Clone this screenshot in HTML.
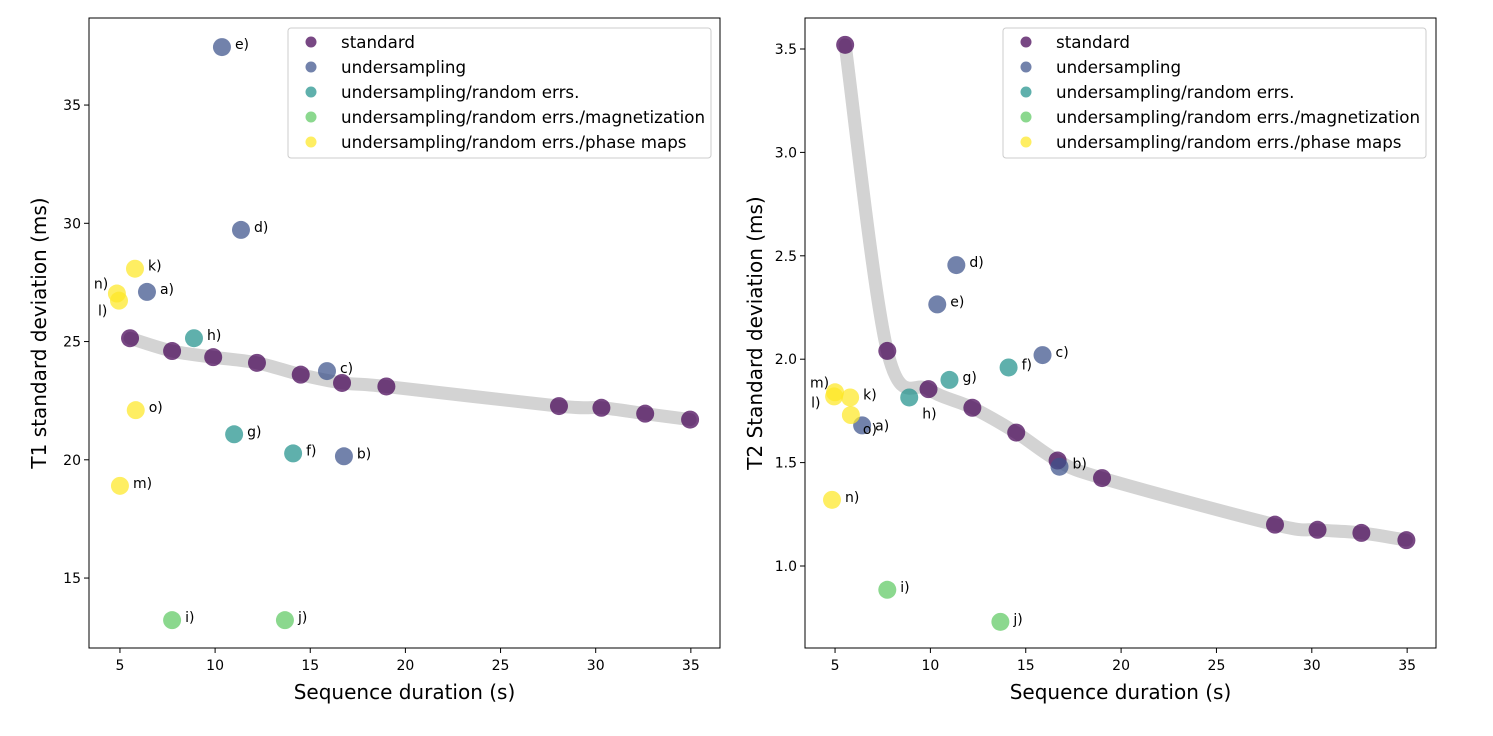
<!DOCTYPE html>
<html><head><meta charset="utf-8"><style>
body{margin:0;background:#fff;font-family:"Liberation Sans","DejaVu Sans",sans-serif}
svg text{font-family:"DejaVu Sans","Liberation Sans",sans-serif}
</style></head><body>
<svg id="c" width="1493" height="731"></svg>
<script>
const categories=["standard","undersampling","undersampling/random errs.","undersampling/random errs./magnetization","undersampling/random errs./phase maps"];
const colors=["#440154","#3b528b","#21918c","#5ec962","#fde725"];
const stdX=[5.53,7.74,9.9,12.2,14.5,16.67,19.0,28.07,30.3,32.6,34.96];
const stdT1=[25.14,24.6,24.34,24.1,23.6,23.25,23.1,22.27,22.2,21.95,21.7];
const stdT2=[3.52,2.04,1.855,1.765,1.645,1.51,1.425,1.2,1.175,1.16,1.125];
const lblNames=["a)","b)","c)","d)","e)","f)","g)","h)","i)","j)","k)","l)","m)","n)","o)"];
const lblCat=[1,1,1,1,1,2,2,2,3,3,4,4,4,4,4];
const lblX=[6.42,16.77,15.88,11.36,10.36,14.1,11.0,8.89,7.74,13.67,5.79,4.95,5.0,4.84,5.83];
const lblT1=[27.1,20.15,23.75,29.72,37.45,20.27,21.08,25.14,13.22,13.22,28.08,26.73,18.9,27.03,22.1];
const lblT2=[1.68,1.48,2.02,2.455,2.265,1.96,1.9,1.815,0.885,0.73,1.815,1.82,1.84,1.32,1.73];
const xTicks=[5,10,15,20,25,30,35];
const t1Ticks=[15,20,25,30,35];
const t2Ticks=[1.0,1.5,2.0,2.5,3.0,3.5];
const offL={"n)":[-23,-10],"l)":[-21,10]};
const offR={"m)":[-25,-10],"l)":[-23,6],"k)":[13,-3],"o)":[12,14],"h)":[13,16],"a)":[13,0]};
const NS="http://www.w3.org/2000/svg";
const svg=document.getElementById('c');
function mk(t,a,p){const e=document.createElementNS(NS,t);for(const k in a)e.setAttribute(k,a[k]);(p||svg).appendChild(e);return e;}
function smooth(pts){let d="M"+pts[0][0]+","+pts[0][1];for(let i=0;i<pts.length-1;i++){const p0=pts[i-1]||pts[i],p1=pts[i],p2=pts[i+1],p3=pts[i+2]||p2;d+=` C${p1[0]+(p2[0]-p0[0])/6},${p1[1]+(p2[1]-p0[1])/6} ${p2[0]-(p3[0]-p1[0])/6},${p2[1]-(p3[1]-p1[1])/6} ${p2[0]},${p2[1]}`;}return d;}
function panel(o){
 const g=mk('g',{});
 const X=v=>o.x0+v*o.xs, Y=v=>o.y0-v*o.ys;
 const line=mk('path',{d:smooth(stdX.map((x,i)=>[X(x),Y(o.std[i])])),fill:"none",stroke:"#d3d3d3",'stroke-width':13,'stroke-linecap':'round'},g);
 
 stdX.forEach((x,i)=>{const c=mk('circle',{cx:X(x),cy:Y(o.std[i]),r:9,fill:colors[0],'fill-opacity':0.72},g);
  });
 lblX.forEach((x,i)=>{const px=X(x),py=Y(o.ly[i]);
  const c=mk('circle',{cx:px,cy:py,r:9,fill:colors[lblCat[i]],'fill-opacity':0.72},g);
  
  const off=o.off[lblNames[i]]||[13,-3];
  const t=mk('text',{x:px+off[0],y:py+off[1]+5,'font-size':14},g);t.textContent=lblNames[i];
  });
 const fr=mk('rect',{x:o.L,y:18,width:o.R-o.L,height:630,fill:"none",stroke:"#000",'stroke-width':1},g);
 
 xTicks.forEach(v=>{mk('line',{x1:X(v),x2:X(v),y1:648,y2:653,stroke:"#000"},g);
  const t=mk('text',{x:X(v),y:670,'font-size':14,'text-anchor':'middle'},g);t.textContent=v;
  });
 o.ticks.forEach(v=>{mk('line',{x1:o.L-5,x2:o.L,y1:Y(v),y2:Y(v),stroke:"#000"},g);
  const t=mk('text',{x:o.L-8,y:Y(v)+5,'font-size':14,'text-anchor':'end'},g);t.textContent=o.fmt(v);
  });
 const xt=mk('text',{x:(o.L+o.R)/2,y:699,'font-size':20,'text-anchor':'middle'},g);xt.textContent="Sequence duration (s)";
 
 const yt=mk('text',{x:0,y:0,'font-size':20,'text-anchor':'middle',transform:`translate(${o.L-43},333) rotate(-90)`},g);yt.textContent=o.ylab;
 
 const lg=mk('g',{},g);
 mk('rect',{x:o.lx,y:28,width:423,height:130,rx:3,fill:"#fff",'fill-opacity':0.8,stroke:"#ccc"},lg);
 categories.forEach((c,i)=>{const yy=42+i*25;
  mk('circle',{cx:o.lx+23,cy:yy,r:5.5,fill:colors[i],'fill-opacity':0.72},lg);
  const t=mk('text',{x:o.lx+53,y:yy+6,'font-size':16.7},lg);t.textContent=c;
  });
}
panel({name:'t1-panel',L:89,R:720,x0:24.8,xs:19.03,y0:932.8,ys:23.65,std:stdT1,ly:lblT1,ticks:t1Ticks,fmt:v=>v,ylab:"T1 standard deviation (ms)",lx:288,off:offL});
panel({name:'t2-panel',L:805,R:1436,x0:739.7,xs:19.07,y0:772.8,ys:206.8,std:stdT2,ly:lblT2,ticks:t2Ticks,fmt:v=>v.toFixed(1),ylab:"T2 Standard deviation (ms)",lx:1003,off:offR});
</script>
</body></html>
